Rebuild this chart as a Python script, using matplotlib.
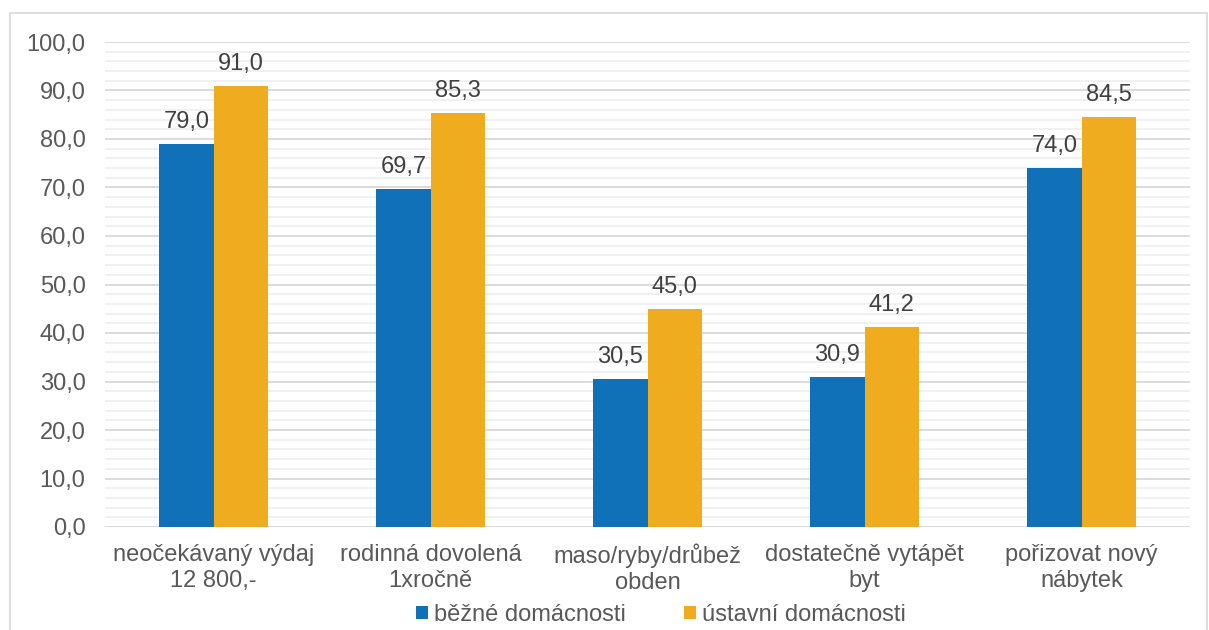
import matplotlib
matplotlib.use("Agg")
import matplotlib.pyplot as plt
from matplotlib.patches import Rectangle
import numpy as np

categories = ["neočekávaný výdaj\n12 800,-", "rodinná dovolená\n1xročně",
              "maso/ryby/drůbež\nobden", "dostatečně vytápět\nbyt",
              "pořizovat nový\nnábytek"]
bezne = [79.0, 69.7, 30.5, 30.9, 74.0]
ustavni = [91.0, 85.3, 45.0, 41.2, 84.5]
series_names = ["běžné domácnosti", "ústavní domácnosti"]
colors = ["#1071B9", "#F0AC1F"]

plt.rcParams['font.family'] = ['Liberation Sans', 'DejaVu Sans']
FS = 17

fig = plt.figure(figsize=(12.09, 6.30), dpi=100)
W, H = 1209, 630
ax = fig.add_axes([105 / W, 1 - 527 / H, (1190 - 105) / W, (527 - 42) / H])

# chart border
fig.patches.append(Rectangle((10 / W, -0.05), (1207 - 10) / W, 1.05 - 13 / H,
                             transform=fig.transFigure, fill=False,
                             edgecolor="#d9d9d9", linewidth=1.2))

x = np.arange(len(categories))
bw = 0.25
b1 = ax.bar(x - bw / 2, bezne, bw, color=colors[0], label=series_names[0], zorder=3)
b2 = ax.bar(x + bw / 2, ustavni, bw, color=colors[1], label=series_names[1], zorder=3)

for bars, vals in ((b1, bezne), (b2, ustavni)):
    for r, v in zip(bars, vals):
        ax.annotate(f"{v:.1f}".replace(".", ","),
                    (r.get_x() + r.get_width() / 2, v),
                    xytext=(0, 8), textcoords="offset points",
                    ha="center", va="bottom", fontsize=FS, color="#404040")

ax.set_xlim(-0.5, len(categories) - 0.5)
ax.set_ylim(0, 100)
ax.set_yticks(np.arange(0, 101, 10))
ax.set_yticklabels([f"{v:.1f}".replace(".", ",") for v in np.arange(0, 101, 10)])
ax.set_yticks(np.arange(0, 101, 2), minor=True)
ax.grid(axis="y", which="major", color="#d9d9d9", linewidth=1.3, zorder=0)
ax.grid(axis="y", which="minor", color="#f0f0f0", linewidth=1.3, zorder=0)
ax.set_xticks(x)
ax.set_xticklabels(categories, fontsize=FS, color="#595959", linespacing=1.25)
ax.tick_params(axis="y", labelsize=FS, labelcolor="#595959", length=0, pad=14, which="both")
ax.tick_params(axis="x", length=0, pad=12)
for s in ax.spines.values():
    s.set_visible(False)
ax.axhline(0, color="#d9d9d9", linewidth=1.3, zorder=2)

leg = fig.legend(handles=[b1, b2], labels=series_names, loc="center",
                 bbox_to_anchor=(661 / W, 1 - 615 / H), ncol=2, frameon=False,
                 fontsize=FS, handlelength=0.5, handleheight=0.5, handletextpad=0.25,
                 columnspacing=2.45, borderpad=0)
for t in leg.get_texts():
    t.set_color("#595959")

fig.savefig("out.png", dpi=100)
